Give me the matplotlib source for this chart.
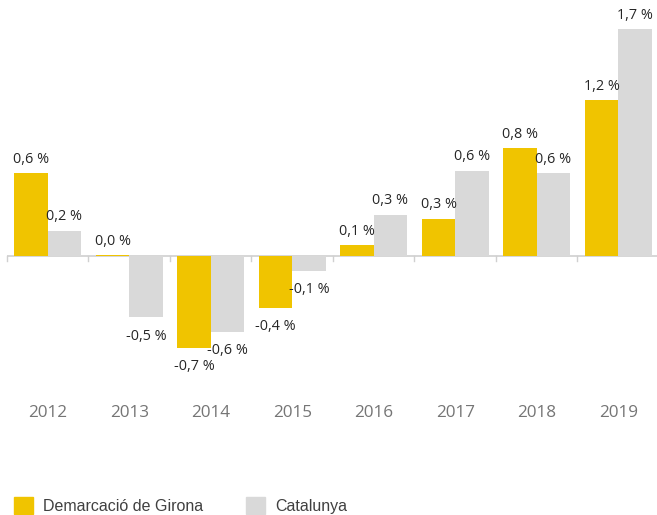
import matplotlib.pyplot as plt
from matplotlib.patches import Patch
import numpy as np

years = ["2012", "2013", "2014", "2015", "2016", "2017", "2018", "2019"]
girona = [0.62, 0.005, -0.69, -0.39, 0.08, 0.28, 0.81, 1.17]
catalunya = [0.19, -0.46, -0.57, -0.11, 0.31, 0.64, 0.62, 1.70]
girona_labels = ["0,6 %", "0,0 %", "-0,7 %", "-0,4 %", "0,1 %", "0,3 %", "0,8 %", "1,2 %"]
catalunya_labels = ["0,2 %", "-0,5 %", "-0,6 %", "-0,1 %", "0,3 %", "0,6 %", "0,6 %", "1,7 %"]

yellow = "#F0C400"
grey = "#D9D9D9"

fig = plt.figure(figsize=(6.57, 5.15), dpi=100)
ax = fig.add_axes([7 / 657, 120 / 515, 652 / 657, 395 / 515])

x = np.arange(len(years))
w = 0.41
off = 0.205
b1 = ax.bar(x - off, girona, w, color=yellow)
b2 = ax.bar(x + off, catalunya, w, color=grey)

ax.set_xlim(-0.5, len(years) - 0.5)
ax.set_ylim(-139 / 133.5, 256 / 133.5)

for bars, labels in ((b1, girona_labels), (b2, catalunya_labels)):
    for bar, lab in zip(bars, labels):
        h = bar.get_height()
        cx = bar.get_x() + bar.get_width() / 2
        if h >= 0:
            ax.annotate(lab, (cx, h), xytext=(0, 4.5), textcoords="offset points",
                        ha="center", va="bottom", fontsize=10.4,
                        family="Open Sans", color="#262626")
        else:
            ax.annotate(lab, (cx, h), xytext=(0, -8), textcoords="offset points",
                        ha="center", va="top", fontsize=10.4,
                        family="Open Sans", color="#262626")

# baseline and small separators between years
ax.axhline(0, color="#D0D0D0", lw=1.2, zorder=0)
for b in np.arange(-0.5, len(years), 1.0):
    ax.plot([b, b], [0, -0.035], color="#D0D0D0", lw=1.0, clip_on=False)

for s in ax.spines.values():
    s.set_visible(False)
ax.set_yticks([])
ax.set_xticks(x)
ax.set_xticklabels(years, fontsize=12.3, family="Open Sans", color="#757575")
ax.tick_params(axis="x", length=0, pad=7.5)

handles = [Patch(color=yellow), Patch(color=grey)]
fig.legend(handles, ["Demarcació de Girona", "Catalunya"], loc="lower left",
           bbox_to_anchor=(-0.001, -0.026), ncol=2, frameon=False,
           prop={"family": "Liberation Sans", "size": 11.5},
           handlelength=1.19, handleheight=1.19, handletextpad=0.63,
           columnspacing=2.7, labelcolor="#404040")

fig.savefig("out.png", dpi=100)
